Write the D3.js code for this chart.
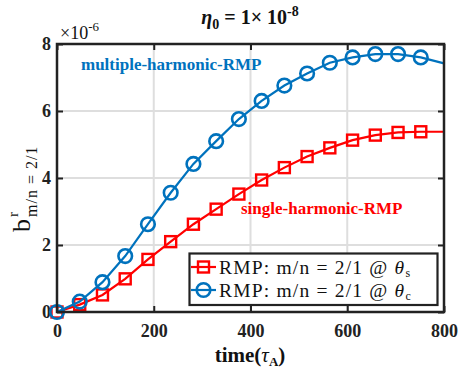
<!DOCTYPE html>
<html>
<head>
<meta charset="utf-8">
<script src="https://cdn.jsdelivr.net/npm/d3@7/dist/d3.min.js"></script>
</head>
<body style="margin:0">
<svg id="fig" width="459" height="374"></svg>
<script>
// time samples (tau_A) where markers are drawn, plus the last point at 800
const times = [0, 47, 94, 141, 188, 235, 282, 329, 376, 423, 470, 517, 564, 611, 658, 705, 752, 800];
// b^r amplitude (x 1e-6), single-harmonic RMP evaluated at theta_s
const singleHarmonic = [0, 0.22, 0.51, 0.99, 1.57, 2.10, 2.62, 3.07, 3.52, 3.94, 4.31, 4.64, 4.90, 5.13, 5.28, 5.36, 5.38, 5.38];
// b^r amplitude (x 1e-6), multiple-harmonic RMP evaluated at theta_c
const multiHarmonic = [0, 0.31, 0.89, 1.67, 2.62, 3.56, 4.42, 5.10, 5.76, 6.30, 6.76, 7.12, 7.44, 7.60, 7.70, 7.70, 7.60, 7.42];
const xTicks = [0, 200, 400, 600, 800];
const yTicks = [0, 2, 4, 6, 8];
const markerCount = 17; // last sample (t = 800) is line-only

const SERIF = "'Liberation Serif'";
const svg = d3.select("#fig").attr("font-family", "Liberation Serif");
const m = { left: 57, right: 444, top: 44, bottom: 312 };
const x = d3.scaleLinear().domain([0, 800]).range([m.left, m.right]);
const y = d3.scaleLinear().domain([0, 8]).range([m.bottom, m.top]);

const BLUE = "#0072BD", RED = "#FF0000";

// apply the serif face to a text node
const serif = sel => sel.attr("font-family", "Liberation Serif").style("font-family", SERIF, "important");

function txt(parent, px, opts = {}) {
  return parent.append("text")
    .call(serif)
    .style("font-size", px + "px")
    .style("font-weight", opts.bold ? "bold" : "normal")
    .attr("fill", opts.fill || "#111");
}

// grid
const grid = svg.append("g");
grid.selectAll(".gx").data(xTicks.slice(1, -1)).enter().append("line")
  .attr("x1", d => x(d)).attr("x2", d => x(d)).attr("y1", m.top).attr("y2", m.bottom)
  .attr("stroke", "#dedede").attr("stroke-width", 2);
grid.selectAll(".gy").data(yTicks.slice(1, -1)).enter().append("line")
  .attr("y1", d => y(d)).attr("y2", d => y(d)).attr("x1", m.left).attr("x2", m.right)
  .attr("stroke", "#dedede").attr("stroke-width", 2);

// axes with inward ticks
const styleAxis = g => {
  g.attr("font-family", "Liberation Serif");
  g.select(".domain").remove();
  g.selectAll(".tick line").attr("stroke", "#222").attr("stroke-width", 2);
  g.selectAll("text").call(serif).style("font-weight", "bold")
    .style("font-size", "18px").attr("fill", "#222");
};
svg.append("g").attr("transform", `translate(0,${m.bottom})`)
  .call(d3.axisBottom(x).tickValues(xTicks).tickSize(-6).tickPadding(12).tickFormat(d3.format("d")))
  .call(styleAxis);
svg.append("g").attr("transform", `translate(${m.left},0)`)
  .call(d3.axisLeft(y).tickValues(yTicks).tickSize(-6).tickPadding(6).tickFormat(d3.format("d")))
  .call(styleAxis);
// mirrored ticks on top and right
svg.append("g").attr("transform", `translate(0,${m.top})`)
  .call(d3.axisTop(x).tickValues(xTicks).tickSize(-6).tickFormat(""))
  .call(styleAxis);
svg.append("g").attr("transform", `translate(${m.right},0)`)
  .call(d3.axisRight(y).tickValues(yTicks).tickSize(-6).tickFormat(""))
  .call(styleAxis);

// series
const line = d3.line().x((d, i) => x(times[i])).y(d => y(d));
function drawSeries(vals, color, shape) {
  const g = svg.append("g");
  g.append("path").datum(vals).attr("d", line)
    .attr("fill", "none").attr("stroke", color).attr("stroke-width", 2.2);
  const pts = vals.slice(0, markerCount);
  if (shape === "square") {
    g.selectAll("rect").data(pts).enter().append("rect")
      .attr("x", (d, i) => x(times[i]) - 5.5).attr("y", d => y(d) - 5.5)
      .attr("width", 11).attr("height", 11)
      .attr("fill", "none").attr("stroke", color).attr("stroke-width", 2.4);
  } else {
    g.selectAll("circle").data(pts).enter().append("circle")
      .attr("cx", (d, i) => x(times[i])).attr("cy", d => y(d)).attr("r", 6.8)
      .attr("fill", "none").attr("stroke", color).attr("stroke-width", 2.6);
  }
}
drawSeries(singleHarmonic, RED, "square");
drawSeries(multiHarmonic, BLUE, "circle");

// frame
svg.append("rect").attr("x", m.left).attr("y", m.top)
  .attr("width", m.right - m.left).attr("height", m.bottom - m.top)
  .attr("fill", "none").attr("stroke", "#222").attr("stroke-width", 2.5);

// series annotations
txt(svg, 17, { bold: true, fill: BLUE }).attr("x", 81).attr("y", 70).text("multiple-harmonic-RMP");
txt(svg, 17, { bold: true, fill: RED }).attr("x", 241).attr("y", 214).text("single-harmonic-RMP");

// legend
const lg = svg.append("g");
lg.append("rect").attr("x", 189.5).attr("y", 253.5).attr("width", 248).attr("height", 51.5)
  .attr("fill", "#fff").attr("stroke", "#222").attr("stroke-width", 2.2);
const legendItems = [
  { color: RED, shape: "square", sub: "s", yy: 267 },
  { color: BLUE, shape: "circle", sub: "c", yy: 290 }
];
legendItems.forEach(it => {
  lg.append("line").attr("x1", 191).attr("x2", 216).attr("y1", it.yy).attr("y2", it.yy)
    .attr("stroke", it.color).attr("stroke-width", 2.2);
  if (it.shape === "square") {
    lg.append("rect").attr("x", 198).attr("y", it.yy - 5.5).attr("width", 11).attr("height", 11)
      .attr("fill", "none").attr("stroke", it.color).attr("stroke-width", 2.4);
  } else {
    lg.append("circle").attr("cx", 203.5).attr("cy", it.yy).attr("r", 6.8)
      .attr("fill", "none").attr("stroke", it.color).attr("stroke-width", 2.6);
  }
  const t = txt(lg, 19.5).attr("x", 219).attr("y", it.yy + 6.5).style("letter-spacing", "1.2px");
  t.append("tspan").text("RMP: m/n = 2/1 @ ");
  t.append("tspan").style("font-style", "italic").text("θ");
  t.append("tspan").style("font-size", "12px").attr("dy", 3).text(it.sub);
});

// title
const title = txt(svg, 20, { bold: true }).attr("x", 250).attr("y", 24).attr("text-anchor", "middle");
title.append("tspan").style("font-style", "italic").text("η");
title.append("tspan").style("font-size", "14px").attr("dy", 5).text("0");
title.append("tspan").attr("dy", -5).text(" = 1× 10");
title.append("tspan").style("font-size", "14px").attr("dy", -8).text("-8");

// exponent multiplier
const ex = txt(svg, 18).attr("x", 60).attr("y", 39);
ex.append("tspan").text("×10");
ex.append("tspan").style("font-size", "13px").attr("dy", -8).text("-6");

// x label
const xl = txt(svg, 21, { bold: true }).attr("x", 250).attr("y", 362).attr("text-anchor", "middle");
xl.append("tspan").text("time(");
xl.append("tspan").style("font-style", "italic").style("font-weight", "normal").text("τ");
xl.append("tspan").style("font-size", "13px").attr("dy", 4).text("A");
xl.append("tspan").attr("dy", -4).text(")");

// y label
const yl = svg.append("g").attr("transform", "translate(30,232) rotate(-90)");
txt(yl, 26).attr("x", 0).attr("y", 0).text("b");
txt(yl, 15).attr("x", 15).attr("y", -12).text("r");
txt(yl, 16).attr("x", 15).attr("y", 7).style("letter-spacing", "1px").text("m/n = 2/1");
</script>
</body>
</html>
